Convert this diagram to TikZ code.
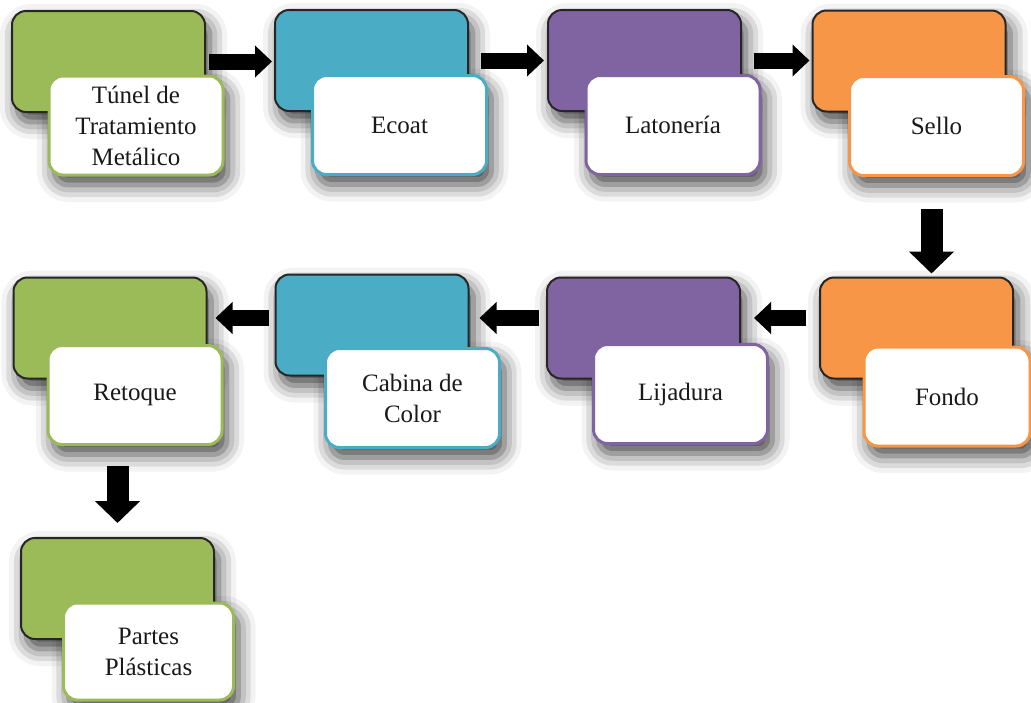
\documentclass[tikz,border=0pt]{standalone}
\usepackage{fontspec}
\setmainfont{Liberation Serif}
\usetikzlibrary{arrows.meta,shadows.blur}
\definecolor{cgreen}{HTML}{9BBB59}
\definecolor{cteal}{HTML}{4BACC6}
\definecolor{cpurple}{HTML}{8064A2}
\definecolor{corange}{HTML}{F79646}
\begin{document}
\begin{tikzpicture}[x=1pt,y=-1pt,
  shadowbase/.style={rounded corners=14pt,fill=white,inner sep=0pt,
      blur shadow={shadow xshift=5pt,shadow yshift=-10pt,
      shadow blur radius=17pt,shadow opacity=75}},
  stagebox/.style={draw=black!85,line width=2pt,rounded corners=14pt,
      minimum width=193pt,minimum height=101pt,inner sep=0pt,
      fill opacity=1,draw opacity=1},
  tagbox/.style={fill=white,line width=3pt,rounded corners=14pt,
      minimum width=174pt,minimum height=99pt,inner sep=0pt,align=center,
      fill opacity=1,draw opacity=1,text opacity=1,
      text=black!90,font=\fontsize{25}{31}\selectfont},
  harrow/.style={line width=16pt,fill opacity=1,draw opacity=1,
      -{Triangle[width=31pt,length=17pt,fill=black]}},
  varrow/.style={line width=22pt,fill opacity=1,draw opacity=1,
      -{Triangle[width=44pt,length=22pt,fill=black]}}
]
\useasboundingbox (0,0) rectangle (1031,702);

% soft drop shadows, laid down first: centre x / centre y / width / height
\begin{scope}
\foreach \cx/\cy/\w/\h in {
    108.5/61.5/193/101, 371.5/60.5/193/101, 644.5/60.5/193/101, 909/61/193/101,
    916.5/328/193/101, 643.5/328/193/101, 372/325/193/101, 110/328/193/101,
    117.5/588.5/193/101,
    136/125.5/174/99, 399.5/125/174/99, 673/125/174/99, 936.5/126/174/99,
    947/396.5/166/99, 680.5/394/174/99, 412.5/398/174/99, 135/395/174/99,
    148.5/651.5/170/97}
  \node[shadowbase,minimum width=\w pt,minimum height=\h pt] at (\cx,\cy) {};
\end{scope}

% coloured stage boxes
\node[stagebox,fill=cgreen]  (b1) at (108.5,61.5) {};
\node[stagebox,fill=cteal]   (b2) at (371.5,60.5) {};
\node[stagebox,fill=cpurple] (b3) at (644.5,60.5) {};
\node[stagebox,fill=corange] (b4) at (909,61) {};
\node[stagebox,fill=corange] (b5) at (916.5,328) {};
\node[stagebox,fill=cpurple] (b6) at (643.5,328) {};
\node[stagebox,fill=cteal]   (b7) at (372,325) {};
\node[stagebox,fill=cgreen]  (b8) at (110,328) {};
\node[stagebox,fill=cgreen]  (b9) at (117.5,588.5) {};

% white label boxes
\node[tagbox,draw=cgreen]  (w1) at (136,125.5) {Túnel de\\Tratamiento\\Metálico};
\node[tagbox,draw=cteal]   (w2) at (399.5,125) {Ecoat};
\node[tagbox,draw=cpurple] (w3) at (673,125) {Latonería};
\node[tagbox,draw=corange] (w4) at (936.5,126) {Sello};
\node[tagbox,draw=corange,minimum width=166pt] (w5) at (947,396.5) {Fondo};
\node[tagbox,draw=cpurple] (w6) at (680.5,394) {Lijadura};
\node[tagbox,draw=cteal]   (w7) at (412.5,398) {Cabina de\\Color};
\node[tagbox,draw=cgreen]  (w8) at (135,395) {Retoque};
\node[tagbox,draw=cgreen,minimum width=170pt,minimum height=97pt] (w9) at (148.5,651.5) {Partes\\Plásticas};

% flow arrows, first row
\draw[harrow,shorten <=3pt,shorten >=2pt] (b1.east) -- (b1.east -| b2.west);
\draw[harrow,shorten <=12pt,shorten >=3pt] (b2.east) -- (b2.east -| b3.west);
\draw[harrow,shorten <=12pt,shorten >=2pt] (b3.east) -- (b3.east -| b4.west);

% down to the second row
\coordinate (s1) at ([xshift=-5pt]w4.south);
\draw[varrow,shorten >=3pt] ([yshift=-32pt]s1) -- (s1 |- b5.north);

% second row, right to left
\coordinate (r5) at ([yshift=10pt]b5.west);
\coordinate (r6) at ([yshift=10pt]b6.west);
\coordinate (r7) at ([yshift=7pt]b7.west);
\draw[harrow,shorten <=13pt,shorten >=13pt] (r5) -- (r5 -| b6.east);
\draw[harrow,shorten <=7pt,shorten >=10pt] (r6) -- (r6 -| b7.east);
\draw[harrow,shorten <=6pt,shorten >=8pt] (r7) -- (r7 -| b8.east);

% down to the last stage
\coordinate (s2) at (w8.south -| b9.north);
\draw[varrow] ([yshift=-20pt]s2) -- ([yshift=14pt]b9.north);
\end{tikzpicture}
\end{document}
